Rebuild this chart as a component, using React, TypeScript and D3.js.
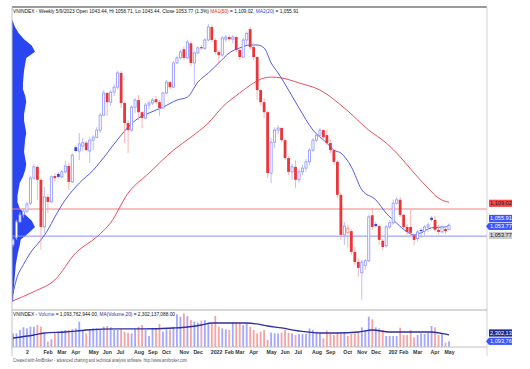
import React from 'react';
import * as d3 from 'd3';

// weekly VNINDEX bars, Dec 2020 .. May 2023 (Tet weeks with no trading are skipped)
const FIRST_FRIDAY = new Date(2020, 11, 4);
const LAST_FRIDAY = new Date(2023, 4, 12);
const CLOSED_WEEKS = ['2022-02-04', '2023-01-27'];

const opens = [1007, 1024, 1062, 1079, 1088, 1107, 1167, 1194, 1163, 1050, 1122, 1110, 1172, 1177, 1170, 1182, 1196, 1158, 1241, 1232,
  1244, 1252, 1232, 1258, 1265, 1282, 1318, 1371, 1349, 1373, 1385, 1419, 1347, 1299, 1282, 1337, 1354, 1325, 1311, 1342,
  1347, 1356, 1349, 1335, 1371, 1397, 1385, 1443, 1455, 1476, 1455, 1490, 1443, 1467, 1481, 1478, 1498, 1529, 1498, 1469,
  1462, 1500, 1505, 1500, 1505, 1474, 1457, 1498, 1524, 1481, 1457, 1378, 1349, 1325, 1179, 1253, 1282, 1287, 1258, 1215,
  1182, 1194, 1163, 1182, 1191, 1206, 1234, 1258, 1270, 1282, 1270, 1251, 1234, 1206, 1127, 1031, 1036, 1040, 990, 966,
  940, 958, 969, 1078, 1057, 1052, 1017, 1005, 1050, 1060, 1107, 1115, 1079, 1050, 1050, 1030, 1022, 1043, 1040, 1050,
  1072, 1067, 1043, 1038, 1045, 1043.44];
const highs = [1024, 1067, 1086, 1095, 1110, 1172, 1201, 1198, 1167, 1146, 1129, 1174, 1179, 1182, 1186, 1208, 1205, 1227, 1246, 1275,
  1263, 1256, 1265, 1270, 1289, 1323, 1378, 1373, 1378, 1392, 1424, 1424, 1350, 1306, 1342, 1359, 1366, 1328, 1347, 1352,
  1359, 1364, 1354, 1373, 1402, 1400, 1447, 1459, 1474, 1483, 1498, 1495, 1471, 1483, 1486, 1503, 1536, 1534, 1503, 1474,
  1507, 1510, 1510, 1510, 1508, 1479, 1503, 1519, 1530, 1491, 1459, 1380, 1359, 1328, 1263, 1289, 1294, 1289, 1260, 1220,
  1201, 1210, 1189, 1198, 1213, 1239, 1263, 1275, 1287, 1284, 1284, 1260, 1236, 1210, 1132, 1062, 1055, 1045, 1002, 975,
  971, 973, 1079, 1095, 1062, 1055, 1022, 1055, 1067, 1115, 1122, 1122, 1081, 1057, 1091, 1033, 1043, 1048, 1055, 1060,
  1076, 1076, 1055, 1055, 1048, 1058.71];
const lows = [1002, 1019, 1060, 1072, 1083, 1102, 1163, 1115, 995, 1036, 1083, 1108, 1160, 1165, 1167, 1178, 1139, 1155, 1229, 1210,
  1232, 1232, 1203, 1234, 1263, 1275, 1316, 1316, 1340, 1364, 1380, 1335, 1251, 1227, 1278, 1323, 1306, 1287, 1308, 1332,
  1342, 1344, 1316, 1332, 1368, 1380, 1383, 1440, 1452, 1450, 1452, 1435, 1390, 1464, 1474, 1474, 1495, 1493, 1464, 1443,
  1458, 1493, 1495, 1490, 1469, 1450, 1455, 1486, 1476, 1450, 1354, 1342, 1311, 1167, 1155, 1239, 1272, 1253, 1210, 1174,
  1163, 1143, 1155, 1174, 1182, 1198, 1230, 1253, 1265, 1260, 1246, 1227, 1198, 1119, 1019, 1007, 1000, 983, 959, 930,
  875, 947, 965, 1043, 1048, 1007, 995, 1000, 1045, 1055, 1103, 1074, 1045, 1031, 1029, 1007, 1015, 1024, 1029, 1038,
  1062, 1038, 1031, 1036, 1034, 1043.44];
const closes = [1019, 1062, 1079, 1088, 1105, 1167, 1194, 1163, 1050, 1122, 1110, 1170, 1167, 1170, 1182, 1196, 1158, 1222, 1232, 1249,
  1252, 1234, 1258, 1265, 1282, 1318, 1371, 1349, 1373, 1385, 1419, 1347, 1299, 1282, 1337, 1354, 1325, 1311, 1342, 1347,
  1354, 1349, 1335, 1371, 1397, 1385, 1443, 1455, 1469, 1455, 1493, 1443, 1467, 1479, 1478, 1498, 1529, 1498, 1469, 1462,
  1503, 1505, 1500, 1505, 1474, 1457, 1498, 1514, 1481, 1457, 1378, 1349, 1325, 1179, 1253, 1282, 1287, 1258, 1215, 1182,
  1194, 1163, 1182, 1191, 1206, 1234, 1258, 1270, 1282, 1265, 1251, 1234, 1206, 1127, 1031, 1052, 1047, 990, 966, 952,
  966, 969, 1074, 1050, 1052, 1019, 1002, 1050, 1060, 1107, 1115, 1079, 1050, 1038, 1036, 1019, 1038, 1040, 1050, 1055,
  1067, 1043, 1038, 1050, 1040, 1053.77];
// billions of shares
const volumes = [2.62, 2.62, 3.26, 3.78, 3.58, 3.9, 3.9, 4.22, 3.9, 2.62, 1.02, 1.47, 2.62, 2.94, 3.14, 3.26, 3.26, 3.39, 3.58, 4.86,
  3.26, 2.62, 3.26, 3.58, 3.58, 3.39, 3.9, 4.03, 3.78, 3.26, 3.26, 3.39, 2.94, 2.75, 2.62, 3.39, 3.9, 4.22, 3.26, 2.11,
  3.58, 3.58, 4.42, 2.94, 3.39, 3.39, 3.9, 6.27, 5.82, 6.46, 5.95, 5.18, 4.86, 4.67, 5.06, 5.18, 4.67, 4.54, 5.95, 3.9,
  3.58, 3.39, 3.26, 4.67, 4.67, 4.67, 4.22, 4.54, 3.9, 3.26, 2.62, 2.94, 3.26, 1.34, 2.75, 2.62, 2.62, 2.75, 3.26, 2.75,
  2.62, 2.3, 2.5, 2.5, 2.5, 3.58, 3.26, 2.94, 2.62, 1.66, 3.14, 2.5, 2.3, 2.75, 2.62, 2.75, 2.11, 2.5, 2.62, 2.94,
  3.78, 3.26, 5.82, 5.31, 3.78, 3.58, 3.26, 2.11, 2.11, 2.11, 2.11, 3.71, 2.3, 2.3, 3.26, 1.86, 2.3, 2.62, 2.5, 2.75,
  4.03, 3.78, 2.3, 2.62, 0.83, 1.094];

// moving averages: [bar, value]
const ma50Points: [number, number][] = [[0, 873], [6, 895], [12, 923], [18, 988], [24, 1026], [28, 1060], [33, 1131], [39, 1179],
  [46, 1234], [51, 1265], [56, 1299], [60, 1337], [65, 1371], [69, 1395], [72, 1407], [74, 1409], [77, 1407], [82, 1395],
  [88, 1378], [95, 1335], [102, 1282], [107, 1251], [111, 1218], [115, 1179], [119, 1143], [122, 1119], [125, 1109.02]];
const ma20Points: [number, number][] = [[0, 890], [1, 925], [3, 960], [5, 988], [8, 1019], [10, 1043], [12, 1074], [15, 1115],
  [19, 1155], [23, 1186], [27, 1227], [31, 1270], [33, 1289], [36, 1311], [39, 1323], [43, 1337], [47, 1354], [50, 1361],
  [53, 1397], [56, 1419], [59, 1443], [62, 1467], [65, 1479], [68, 1486], [70, 1486], [72, 1479], [74, 1443], [76, 1419],
  [79, 1378], [82, 1335], [86, 1282], [90, 1251], [92, 1234], [94, 1227], [97, 1194], [100, 1139], [104, 1115], [107, 1083],
  [110, 1059], [113, 1038], [115, 1031], [117, 1036], [120, 1048], [124, 1050], [125, 1055.91]];
const volMaPoints: [number, number][] = [[0, 1.73], [6, 2.3], [9, 2.69], [15, 2.88], [21, 3.26], [30, 3.46], [37, 3.46],
  [46, 3.65], [50, 3.84], [54, 4.22], [57, 4.61], [63, 4.61], [67, 4.61], [70, 4.42], [73, 4.03], [77, 3.65], [82, 3.07],
  [88, 2.69], [93, 2.69], [99, 2.88], [103, 3.26], [108, 2.88], [117, 2.88], [120, 2.88], [124, 2.45], [125, 2.302]];

// volume-at-price profile on the left
const vapPrices = [1545, 1530, 1515, 1500, 1485, 1470, 1455, 1440, 1425, 1410, 1395, 1380, 1365, 1350, 1335, 1320, 1305,
  1290, 1275, 1260, 1245, 1230, 1215, 1200, 1185, 1170, 1155, 1140, 1125, 1110, 1095, 1080, 1065, 1050, 1035, 1020, 1005,
  990, 975, 960, 945, 930, 915, 900, 885, 870];
const vapVolumes = [0.5, 2.5, 6, 11, 18, 21, 13, 12, 11, 10.5, 10, 10, 12, 13, 12, 11, 11, 12, 13, 12, 11.5, 11, 12, 13, 12,
  10, 7, 6, 5, 5, 7, 12, 18, 21, 15, 8, 7, 5.5, 4.5, 3.5, 3, 2.5, 2, 1.5, 1.2, 1];

// horizontal study lines
const resistance = 1093;
const support = 1028;

const yearText: Record<number, string> = { 2021: '2', 2022: '2022', 2023: '202' };

const FONT = '"Liberation Sans", Arial, sans-serif';

export default function App() {
  const n = closes.length;
  const fmtDay = d3.timeFormat('%Y-%m-%d');
  const dates = d3.timeFriday
    .range(FIRST_FRIDAY, d3.timeDay.offset(LAST_FRIDAY, 1))
    .filter(d => !CLOSED_WEEKS.includes(fmtDay(d)));

  const left = 12, right = 487, top = 7, mainBottom = 310, volBottom = 347;

  const x = d3.scaleLinear().domain([0, n - 1]).range([13, 449]);
  const y = d3.scaleLinear().domain([851, 1577]).range([mainBottom, top]);
  const vy = d3.scaleLinear().domain([0, 7.1]).range([volBottom, mainBottom]);
  const vapX = d3.scaleLinear().domain([0, 21]).range([left, 35]);

  const line = d3.line<[number, number]>().x(d => x(d[0])).y(d => y(d[1])).curve(d3.curveMonotoneX);
  const volLine = d3.line<[number, number]>().x(d => x(d[0])).y(d => vy(d[1])).curve(d3.curveMonotoneX);
  const vapArea = d3.area<number>()
    .y((_, i) => y(vapPrices[i]))
    .x0(left)
    .x1(d => vapX(d));

  const ticks = dates
    .map((d, i) => ({ d, i }))
    .filter(({ d, i }) => i > 0 && d.getMonth() !== dates[i - 1].getMonth())
    .map(({ d, i }) => ({ i, label: d.getMonth() === 0 ? yearText[d.getFullYear()] : d3.timeFormat('%b')(d) }));

  const isUp = (i: number) => closes[i] >= (i > 0 ? closes[i - 1] : opens[i]);

  const lastMa50 = ma50Points[ma50Points.length - 1][1];
  const lastMa20 = ma20Points[ma20Points.length - 1][1];
  const lastClose = closes[n - 1];
  const lastVol = volumes[n - 1];
  const lastVolMa = volMaPoints[volMaPoints.length - 1][1];
  const fmtNum = d3.format(',.2f');

  const priceLabels = [
    { text: fmtNum(lastMa50), cy: y(lastMa50) + 1, fill: '#f24848', color: '#1a1a1a', pointer: false },
    { text: fmtNum(lastMa20), cy: y(lastMa20) - 6, fill: '#3a55ff', color: '#ffffff', pointer: false },
    { text: fmtNum(lastClose), cy: y(lastClose) + 1, fill: '#3a55ff', color: '#ffffff', pointer: true },
    { text: fmtNum(lastClose), cy: y(lastClose) + 10, fill: '#cdcdcd', color: '#1a1a1a', pointer: false },
  ];
  const volLabels = [
    { text: d3.format(',')(2302137088), cy: vy(lastVolMa) - 2, fill: '#1c2a8c', color: '#ffffff', pointer: false },
    { text: d3.format(',')(1093762944), cy: vy(lastVol), fill: '#3a55ff', color: '#ffffff', pointer: true },
  ];

  const renderLabel = (l: any, k: number) => (
    <g key={k}>
      {l.pointer && <path d={`M${right - 1},${l.cy} L${right + 2},${l.cy - 3.6} L${right + 2},${l.cy + 3.6} Z`} fill={l.fill} />}
      <rect x={right + 2} y={l.cy - 3.6} width={30} height={7.2} fill={l.fill} />
      <text x={right + 3} y={l.cy + 2} fontSize={5.6} fill={l.color} fontFamily={FONT}>{l.text}</text>
    </g>
  );

  return (
    <div style={{ position: 'fixed', left: 0, top: 0 }}>
      <svg width={530} height={369} style={{ display: 'block', background: '#fff' }}>
        <defs>
          <clipPath id="mainClip"><rect x={left} y={top} width={right - left} height={mainBottom - top} /></clipPath>
          <clipPath id="labelClip"><rect x={right - 2} y={0} width={512 - right + 2} height={369} /></clipPath>
        </defs>

        <g clipPath="url(#mainClip)">
          <path d={vapArea(vapVolumes) || ''} fill="#2a45f2" />
          <line x1={left} x2={right} y1={y(resistance)} y2={y(resistance)} stroke="#f08080" strokeWidth={1} />
          <line x1={left} x2={right} y1={y(support)} y2={y(support)} stroke="#8a8cff" strokeWidth={1} />
          <path d={line(ma50Points) || ''} fill="none" stroke="#e8505a" strokeWidth={1} />
          <path d={line(ma20Points) || ''} fill="none" stroke="#5459e6" strokeWidth={1} />

          {closes.map((c, i) => {
            const o = opens[i];
            const up = isUp(i);
            const filled = c < o;
            const cx = x(i);
            const yTop = y(Math.max(o, c));
            const yBot = y(Math.min(o, c));
            const h = Math.max(0.8, yBot - yTop);
            return (
              <g key={i}>
                <line x1={cx} x2={cx} y1={y(highs[i])} y2={y(lows[i])}
                  stroke={up ? '#aab0ff' : '#f5a3a3'} strokeWidth={0.8} />
                {filled ? (
                  <rect x={cx - 1.4} y={yTop} width={2.8} height={h} fill={up ? '#3346e6' : '#e8363a'} />
                ) : (
                  <rect x={cx - 1.05} y={yTop} width={2.1} height={h} fill="#ffffff"
                    stroke={up ? '#8c92ff' : '#f08a8a'} strokeWidth={0.8} />
                )}
              </g>
            );
          })}
        </g>

        {volumes.map((v, i) => (
          <rect key={i} x={x(i) - 0.9} y={vy(v)} width={1.8} height={volBottom - vy(v)}
            fill={isUp(i) ? '#a3a7ff' : '#f4a4a4'} />
        ))}
        <path d={volLine(volMaPoints) || ''} fill="none" stroke="#2c2f9e" strokeWidth={1.3} />

        {/* frame */}
        <line x1={left} x2={right} y1={top} y2={top} stroke="#9a9a9a" strokeWidth={2} />
        <line x1={left} x2={left} y1={top} y2={356} stroke="#c4c4c4" strokeWidth={1} />
        <line x1={right} x2={right} y1={top} y2={356} stroke="#d4d4d4" strokeWidth={1} />
        <line x1={left} x2={right} y1={mainBottom} y2={mainBottom} stroke="#b0b0b0" strokeWidth={1} />
        <line x1={left} x2={right} y1={volBottom} y2={volBottom} stroke="#c0c0c0" strokeWidth={1} />

        {/* titles, squeezed horizontally like the narrow AmiBroker font */}
        <g transform="translate(13,13) scale(0.865,1)">
          <text x={0} y={0} fontSize={5.6} fontFamily={FONT} fill="#111">
            VNINDEX - Weekly 5/9/2023 Open 1043.44, Hi 1058.71, Lo 1043.44, Close 1053.77 (1.3%) <tspan fill="#e02828">MA1(50)</tspan> = 1,109.02, <tspan fill="#2f3fe0">MA2(20)</tspan> = 1,055.91
          </text>
        </g>
        <g transform="translate(13,316) scale(0.855,1)">
          <text x={0} y={0} fontSize={5.6} fontFamily={FONT} fill="#111">
            VNINDEX - <tspan fill="#2f3fe0">Volume</tspan> = 1,093,762,944.00, <tspan fill="#2c2f9e">MA(Volume,20)</tspan> = 2,302,137,088.00
          </text>
        </g>

        {ticks.map(t => (
          <text key={t.i} x={x(t.i) - 1} y={353.5} fontSize={5.2} fontWeight="bold" fontFamily={FONT} fill="#333">{t.label}</text>
        ))}

        <text x={13} y={362} fontSize={4.8} fontFamily={FONT} fill="#555" textLength={174} lengthAdjust="spacingAndGlyphs">
          Created with AmiBroker - advanced charting and technical analysis software. http://www.amibroker.com
        </text>

        <g clipPath="url(#labelClip)">
          {priceLabels.map(renderLabel)}
          {volLabels.map(renderLabel)}
        </g>
      </svg>
    </div>
  );
}
